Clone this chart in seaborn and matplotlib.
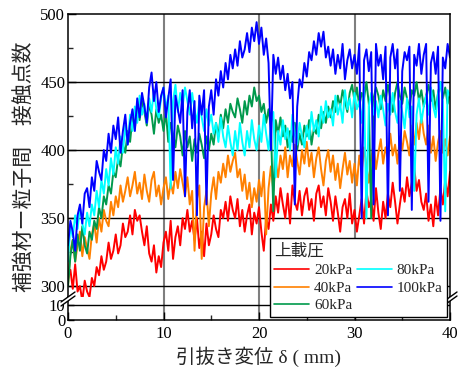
import numpy as np
import pandas as pd
import matplotlib
matplotlib.use("Agg")
import matplotlib.pyplot as plt
import seaborn as sns
from matplotlib.lines import Line2D
from matplotlib.patches import Polygon

# ---------------- data ----------------
x_mm = np.linspace(0, 40, 161)  # pull-out displacement, 0.25 mm sampling

load_labels = ["20kPa", "40kPa", "60kPa", "80kPa", "100kPa"]
colors = ["#ff0000", "#ff8000", "#00994c", "#00ffff", "#0000ff"]

kpa20 = [
    305, 312, 298, 316, 296, 300, 289, 304, 296, 292,
    306, 300, 314, 308, 322, 312, 318, 332, 320, 326,
    338, 324, 330, 346, 336, 340, 352, 338, 356, 348,
    352, 340, 330, 344, 324, 318, 330, 310, 322, 314,
    332, 340, 326, 348, 320, 336, 344, 330, 350, 342,
    356, 340, 348, 334, 350, 328, 340, 322, 346, 330,
    338, 352, 342, 336, 356, 350, 362, 348, 366, 356,
    350, 364, 344, 356, 340, 352, 360, 338, 354, 346,
    358, 340, 326, 350, 342, 360, 348, 366, 354, 372,
    360, 350, 368, 346, 374, 362, 356, 370, 352, 366,
    372, 356, 364, 348, 368, 374, 358, 366, 352, 372,
    362, 348, 366, 354, 340, 358, 364, 350, 368, 346,
    356, 340, 352, 364, 346, 370, 358, 364, 348, 372,
    354, 342, 362, 350, 368, 358, 376, 362, 346, 360,
    372, 362, 380, 366, 376, 388, 370, 378, 362, 356,
    368, 348, 360, 344, 366, 352, 372, 360, 378, 366,
    384]

kpa40 = [
    300, 326, 334, 318, 330, 340, 322, 336, 328, 320,
    338, 346, 332, 350, 340, 356, 348, 344, 362, 352,
    366, 358, 374, 362, 370, 380, 366, 374, 384, 368,
    376, 364, 382, 370, 362, 378, 384, 366, 374, 360,
    372, 380, 364, 376, 368, 384, 372, 386, 376, 366,
    380, 360, 370, 326, 364, 374, 320, 358, 370, 344,
    368, 380, 364, 384, 376, 390, 380, 396, 384, 392,
    398, 380, 386, 370, 382, 364, 376, 358, 372, 362,
    378, 366, 384, 338, 372, 388, 370, 392, 380, 396,
    386, 402, 380, 396, 388, 404, 392, 382, 400, 390,
    406, 388, 398, 380, 394, 402, 386, 374, 392, 400,
    384, 396, 378, 390, 372, 386, 398, 382, 392, 376,
    390, 374, 396, 384, 402, 388, 376, 394, 404, 386,
    398, 408, 390, 402, 394, 412, 396, 404, 390, 410,
    400, 414, 406, 396, 418, 404, 420, 408, 426, 412,
    404, 418, 398, 410, 392, 406, 414, 398, 408, 396,
    410]

kpa60 = [
    300, 322, 334, 318, 338, 326, 344, 330, 324, 340,
    334, 348, 342, 358, 350, 366, 360, 374, 368, 384,
    380, 394, 388, 404, 398, 414, 406, 424, 416, 432,
    422, 436, 428, 418, 434, 426, 412, 430, 420, 426,
    414, 428, 406, 420, 412, 402, 418, 410, 396, 414,
    402, 410, 392, 408, 398, 412, 404, 394, 410, 400,
    412, 404, 420, 410, 426, 416, 430, 420, 434, 428,
    424, 438, 430, 420, 436, 426, 440, 432, 446, 436,
    440, 428, 434, 420, 430, 416, 355, 422, 412, 424,
    410, 418, 402, 414, 406, 420, 400, 412, 404, 418,
    410, 422, 404, 416, 412, 426, 416, 428, 420, 432,
    424, 436, 428, 440, 432, 444, 436, 428, 442, 448,
    436, 446, 432, 442, 438, 450, 434, 350, 438, 446,
    440, 430, 444, 436, 448, 438, 428, 442, 450, 440,
    434, 446, 438, 430, 444, 440, 450, 436, 444, 432,
    440, 448, 436, 444, 430, 442, 450, 438, 446, 434,
    442]

kpa80 = [
    318, 344, 336, 352, 342, 358, 346, 338, 354, 344,
    360, 352, 370, 358, 378, 368, 386, 374, 394, 382,
    402, 390, 410, 398, 418, 404, 426, 414, 432, 420,
    440, 426, 434, 420, 438, 428, 444, 430, 424, 438,
    446, 430, 440, 372, 436, 448, 428, 442, 432, 446,
    436, 426, 442, 430, 420, 436, 424, 414, 430, 418,
    426, 412, 420, 406, 424, 410, 402, 418, 406, 396,
    414, 400, 420, 406, 396, 414, 402, 422, 408, 400,
    418, 406, 426, 412, 400, 420, 428, 380, 414, 404,
    422, 408, 416, 400, 426, 412, 404, 420, 410, 402,
    418, 408, 428, 414, 422, 410, 432, 420, 436, 424,
    430, 418, 440, 426, 434, 420, 444, 430, 438, 424,
    442, 430, 436, 420, 446, 350, 432, 442, 426, 436,
    424, 440, 430, 418, 434, 426, 442, 428, 420, 436,
    428, 416, 438, 424, 432, 370, 426, 438, 420, 432,
    440, 426, 446, 432, 424, 442, 450, 436, 355, 444,
    440]

kpa100 = [
    330, 348, 340, 326, 352, 360, 346, 368, 372, 358,
    380, 370, 392, 384, 378, 400, 392, 412, 398, 418,
    408, 424, 398, 414, 426, 404, 420, 430, 414, 438,
    424, 442, 432, 420, 446, 457, 436, 450, 428, 440,
    446, 424, 438, 452, 378, 440, 430, 420, 444, 366,
    428, 444, 416, 436, 352, 440, 426, 444, 360, 432,
    444, 426, 452, 440, 458, 446, 464, 452, 470, 460,
    474, 462, 480, 468, 474, 486, 472, 490, 480, 494,
    478, 490, 470, 482, 464, 400, 470, 456, 468, 452,
    462, 444, 456, 438, 450, 360, 432, 452, 446, 464,
    454, 472, 466, 480, 470, 486, 476, 487, 468, 476,
    462, 474, 456, 470, 460, 478, 452, 466, 474, 460,
    470, 456, 478, 350, 466, 474, 458, 472, 360, 478,
    462, 470, 452, 476, 352, 468, 478, 460, 474, 370,
    458, 472, 466, 476, 356, 470, 462, 478, 456, 470,
    478, 362, 464, 472, 456, 476, 348, 468, 460, 478,
    468]

series = [kpa20, kpa40, kpa60, kpa80, kpa100]

frames = []
for lab, vals in zip(load_labels, series):
    frames.append(pd.DataFrame({"x": x_mm, "n": vals, "load": lab}))
df = pd.concat(frames, ignore_index=True)

# ---------------- styling ----------------
sns.set_style("ticks")
plt.rcParams["font.family"] = ["Liberation Serif", "Noto Sans CJK JP", "DejaVu Sans"]
plt.rcParams["axes.linewidth"] = 1.1

W, H = 458, 369
fig = plt.figure(figsize=(W / 100, H / 100), dpi=100)

left, right = 68 / W, 450 / W
top_px, brk_px, bot_px = 14, 297, 320
ax_top = fig.add_axes([left, 1 - brk_px / H, right - left, (brk_px - top_px) / H])
ax_bot = fig.add_axes([left, 1 - bot_px / H, right - left, (bot_px - brk_px) / H], sharex=ax_top)

pal = dict(zip(load_labels, colors))
sns.lineplot(data=df, x="x", y="n", hue="load", hue_order=load_labels,
             palette=pal, estimator=None, sort=False, lw=1.4,
             legend=False, ax=ax_top)

for ax in (ax_top, ax_bot):
    ax.set_xlim(0, 40)
    ax.set_xlabel("")
    ax.set_ylabel("")
    for x in (10, 20, 30):
        ax.axvline(x, color="#7f7f7f", lw=1.5, zorder=0.5)
    for s in ax.spines.values():
        s.set_color("black")
    ax.tick_params(direction="in", colors="black", labelsize=12,
                   length=6, width=1, pad=2)
    ax.tick_params(which="minor", direction="in", length=3.5, width=1)

ax_top.set_ylim(292, 500)
ax_top.set_yticks([300, 350, 400, 450, 500])
ax_top.set_yticks([325, 375, 425, 475], minor=True)
for y in (300, 350, 400, 450):
    ax_top.axhline(y, color="black", lw=1.0, zorder=0.6)
ax_top.spines["bottom"].set_visible(False)
ax_top.tick_params(axis="x", which="both", bottom=False, labelbottom=False)

ax_bot.set_ylim(0, 15.3)
ax_bot.set_yticks([0, 10])
ax_bot.axhline(10, color="black", lw=1.0, zorder=0.6)
ax_bot.spines["top"].set_visible(False)
ax_bot.set_xticks([0, 10, 20, 30, 40])
ax_bot.set_xticks([5, 15, 25, 35], minor=True)
ax_bot.tick_params(axis="y", which="major", length=4)
ax_bot.tick_params(axis="x", pad=4)

for ax in (ax_top, ax_bot):
    for lab in ax.get_xticklabels() + ax.get_yticklabels():
        lab.set_fontfamily("Liberation Serif")

# break marks on both vertical spines
def brk(xp):
    yl, yh = 1 - 306 / H, 1 - 296 / H
    dx = 7 / W
    gap = 4 / H
    poly = Polygon([(xp - dx, yl), (xp + dx, yh), (xp + dx, yh + gap), (xp - dx, yl + gap)],
                   closed=True, transform=fig.transFigure, facecolor="white",
                   edgecolor="none", zorder=10)
    fig.patches.append(poly)
    for off in (0, gap):
        fig.add_artist(Line2D([xp - dx, xp + dx], [yl + off, yh + off],
                              transform=fig.transFigure, color="black", lw=1.0, zorder=11))

brk(left)
brk(right)

# axis labels
fig.text((left + right) / 2, 1 - 357 / H, "引抜き変位 δ ( mm)", ha="center", va="center",
         fontsize=14, family=["Liberation Serif", "Noto Sans CJK JP"])
fig.text(25 / W, 1 - 167 / H, "補強材ー粒子間　接触点数", ha="center", va="center",
         rotation=90, fontsize=15, family=["Noto Sans CJK JP", "DejaVu Sans"])

# legend
handles = [Line2D([], [], color=c, lw=1.2) for c in colors]
leg = fig.legend(handles, load_labels, title="上載圧", ncol=2,
                 loc="lower right", bbox_to_anchor=(447 / W, 1 - 317 / H),
                 fontsize=11, handlelength=2.3, handletextpad=0.3,
                 columnspacing=0.3, labelspacing=0.25, borderpad=0.3,
                 borderaxespad=0, frameon=True, fancybox=False,
                 alignment="left")
leg.get_title().set_fontfamily(["Noto Sans CJK JP", "DejaVu Sans"])
leg.get_title().set_fontsize(12)
leg.get_frame().set_edgecolor("black")
leg.get_frame().set_linewidth(1.0)
leg.get_frame().set_alpha(1)
leg.set_zorder(20)

fig.savefig("out.png", dpi=100)
